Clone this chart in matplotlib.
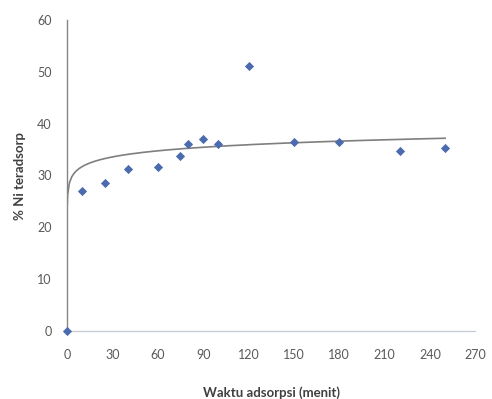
import numpy as np
import matplotlib
matplotlib.use("Agg")
import matplotlib.pyplot as plt

# Data
waktu = [0, 10, 25, 40, 60, 75, 80, 90, 100, 120, 150, 180, 220, 250]
ni_teradsorp = [0, 27.1, 28.6, 31.2, 31.6, 33.8, 36.0, 37.0, 36.0, 51.2, 36.4, 36.5, 34.7, 35.3]

# Logarithmic trendline y = a*ln(x) + b (as shown on chart)
trend_a = 1.7
trend_b = 27.8

x_ticks = [0, 30, 60, 90, 120, 150, 180, 210, 240, 270]
y_ticks = [0, 10, 20, 30, 40, 50, 60]

plt.rcParams['font.family'] = ['Lato', 'DejaVu Sans']

fig = plt.figure(figsize=(4.92, 3.99), dpi=100)
ax = fig.add_axes([67/492, 1 - 331/399, (475.4 - 67)/492, (331 - 20)/399])

xt = np.linspace(0, max(waktu), 160)
xt[0] = 1e-9
xt = np.insert(xt, 1, [0.02, 0.1, 0.4])
yt = trend_a * np.log(xt) + trend_b
ax.plot(xt, yt, color='#7f7f7f', lw=1.2, zorder=2, clip_on=True)

ax.scatter(waktu, ni_teradsorp, marker='D', s=22, color='#4A6BAE', zorder=3, clip_on=False, linewidths=0)

ax.set_xlim(0, 270)
ax.set_ylim(0, 60)
ax.set_xticks(x_ticks)
ax.set_yticks(y_ticks)
ax.tick_params(length=0, colors='#595959', labelsize=9)
ax.tick_params(axis='x', pad=13)
ax.tick_params(axis='y', pad=11)

for s in ['top', 'right']:
    ax.spines[s].set_visible(False)
ax.spines['left'].set_color('#868686')
ax.spines['left'].set_linewidth(1.0)
ax.spines['bottom'].set_color('#c8ccd4')
ax.spines['bottom'].set_linewidth(1.0)

ax.set_xlabel('Waktu adsorpsi (menit)', fontsize=9.5, fontweight='bold', color='#404040', labelpad=18)
ax.set_ylabel('% Ni teradsorp', fontsize=9.5, fontweight='bold', color='#404040', labelpad=8)

fig.savefig('out.png', dpi=100, facecolor='white')
